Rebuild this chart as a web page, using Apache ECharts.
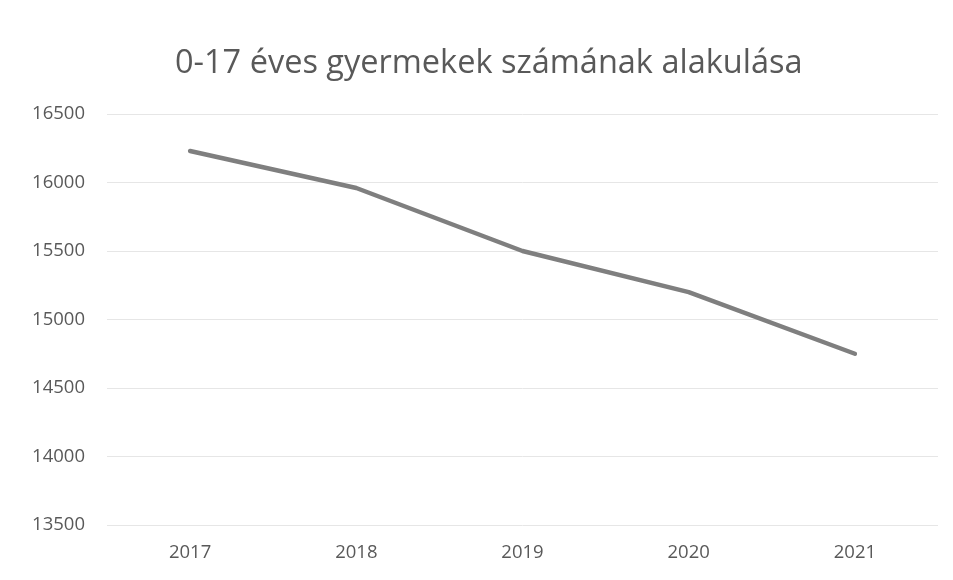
<!DOCTYPE html>
<html>
<head>
<meta charset="utf-8">
<script src="https://cdn.jsdelivr.net/npm/echarts@6/dist/echarts.min.js"></script>
<style>
html, body { margin: 0; padding: 0; background: #fff; }
#chart { width: 953px; height: 580px; }
</style>
</head>
<body>
<div id="chart"></div>
<script>
const years = ['2017', '2018', '2019', '2020', '2021'];
const childCount = [16230, 15960, 15500, 15200, 14750];
const yTicks = [13500, 14000, 14500, 15000, 15500, 16000, 16500];

let chart = echarts.init(document.getElementById('chart'));
let option = {
    title: {
        text: '0-17 éves gyermekek számának alakulása',
        left: 170,
        top: 42,
        textStyle: {
            color: '#595959',
            fontSize: 32.5,
            fontWeight: 'normal',
            fontFamily: 'Open Sans'
        }
    },
    grid: {
        left: 107,
        right: 15,
        top: 114,
        bottom: 55
    },
    xAxis: {
        type: 'category',
        data: years,
        axisLine: { show: false },
        axisTick: { show: false },
        axisLabel: {
            color: '#595959',
            fontSize: 18.5,
            fontFamily: 'Open Sans',
            margin: 18
        }
    },
    yAxis: {
        type: 'value',
        min: yTicks[0],
        max: yTicks[yTicks.length - 1],
        interval: 500,
        axisLabel: {
            color: '#595959',
            fontSize: 18.5,
            fontFamily: 'Open Sans',
            margin: 22,
            formatter: (v) => String(v)
        },
        splitLine: {
            lineStyle: { color: '#e6e6e6', width: 1 }
        }
    },
    series: [{
        type: 'line',
        data: childCount,
        symbol: 'none',
        lineStyle: { color: '#7f7f7f', width: 4.5, cap: 'round' }
    }]
};
chart.setOption(option);
window.addEventListener('resize', () => {
    chart.resize()
})
</script>
</body>
</html>
